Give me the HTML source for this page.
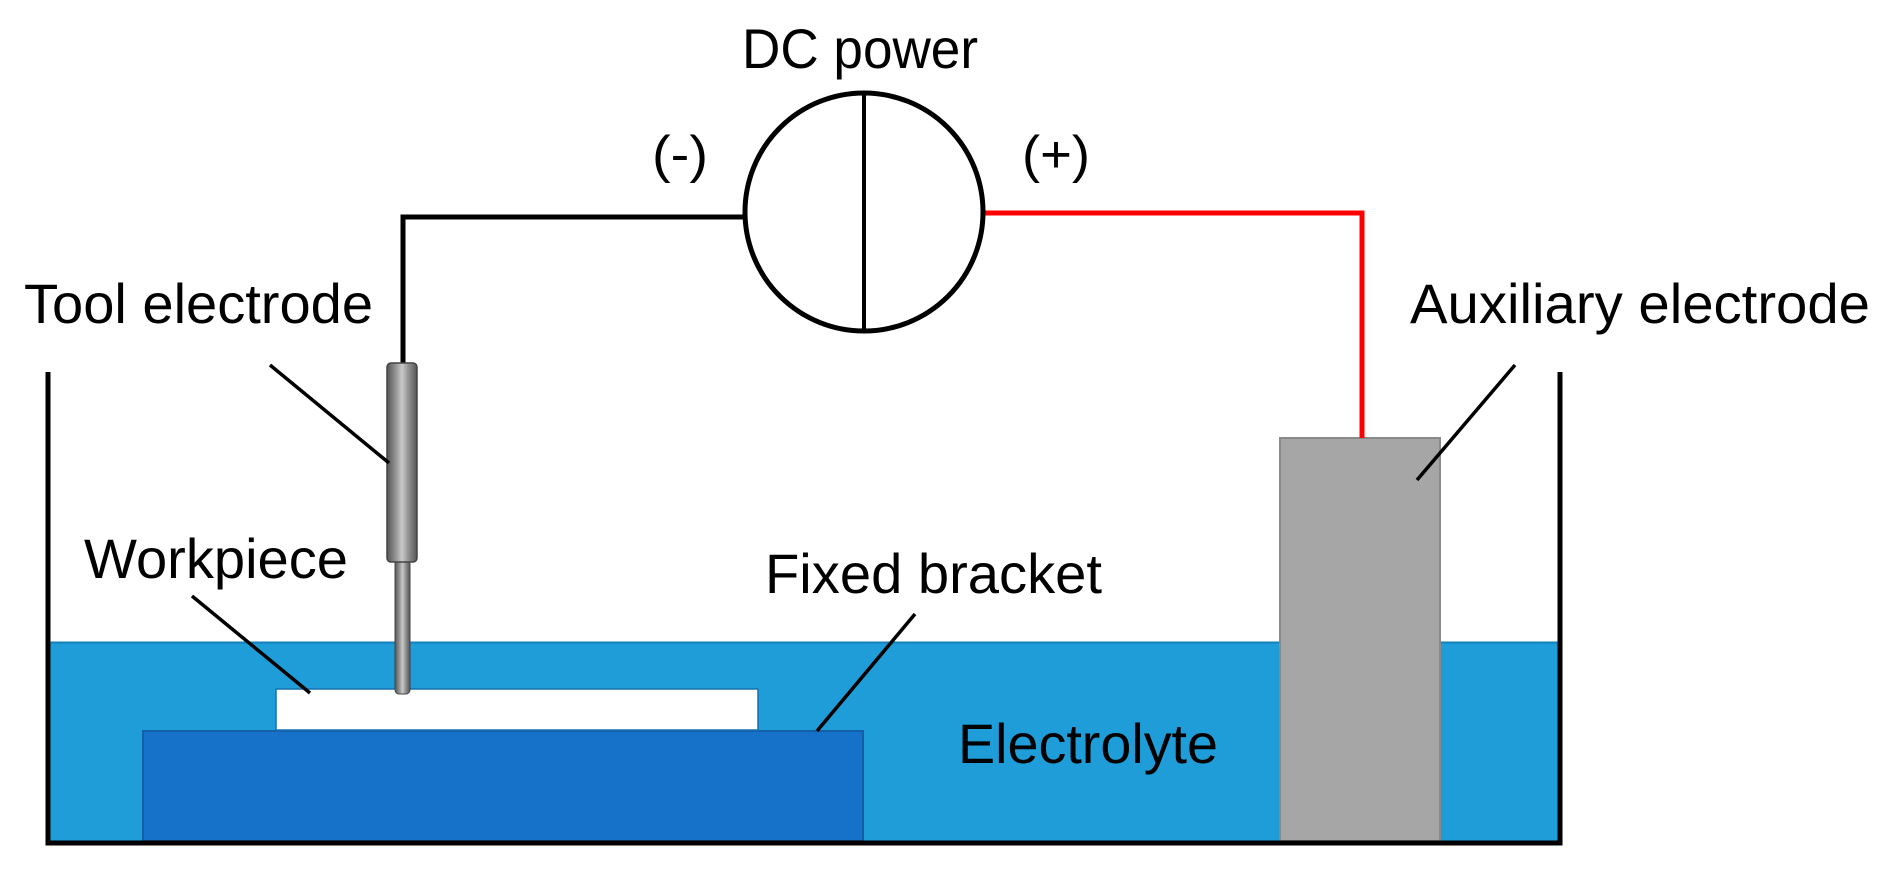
<!DOCTYPE html>
<html><head><meta charset="utf-8"><style>
html,body{margin:0;padding:0;background:#fff;}
svg{display:block;}
text{font-family:"Liberation Sans",Arial,sans-serif;fill:#000;}
</style></head><body>
<svg width="1881" height="891" viewBox="0 0 1881 891" xmlns="http://www.w3.org/2000/svg">
<defs>
<linearGradient id="cyl" x1="0" x2="1" y1="0" y2="0">
<stop offset="0" stop-color="#555"/><stop offset="0.25" stop-color="#8a8a8a"/><stop offset="0.5" stop-color="#c8c8c8"/><stop offset="0.75" stop-color="#8a8a8a"/><stop offset="1" stop-color="#555"/>
</linearGradient>
</defs>
<rect x="48" y="642" width="1512" height="200" fill="#1e9dd8"/>
<line x1="48" y1="642.5" x2="1560" y2="642.5" stroke="#1780b8" stroke-width="2"/>
<rect x="143" y="731" width="720" height="110" fill="#1672c8" stroke="#1460a8" stroke-width="2"/>
<rect x="276" y="689" width="482" height="41" fill="#fff" stroke="#1670b0" stroke-width="1.5"/>
<rect x="1280" y="438" width="160" height="403" fill="#a6a6a6" stroke="#8a8a8a" stroke-width="2"/>
<polyline points="48,372 48,843 1560,843 1560,372" fill="none" stroke="#000" stroke-width="5"/>
<polyline points="403,363 403,217 745,217" fill="none" stroke="#000" stroke-width="5"/>
<polyline points="983,213 1362,213 1362,438" fill="none" stroke="#f00" stroke-width="5"/>
<circle cx="864" cy="212" r="119" fill="#fff" stroke="#000" stroke-width="5"/>
<line x1="864" y1="93" x2="864" y2="331" stroke="#000" stroke-width="4"/>
<rect x="395" y="560" width="15" height="134" rx="4" fill="url(#cyl)" stroke="#444" stroke-width="1"/>
<rect x="387" y="363" width="30" height="199" rx="4" fill="url(#cyl)" stroke="#444" stroke-width="1.5"/>
<g stroke="#000" stroke-width="3.5">
<line x1="270" y1="365" x2="389" y2="463"/>
<line x1="192" y1="596" x2="310" y2="693"/>
<line x1="915" y1="614" x2="817" y2="731"/>
<line x1="1515" y1="365" x2="1417" y2="480"/>
</g>
<g font-size="56">
<text x="742" y="68" textLength="236" lengthAdjust="spacingAndGlyphs">DC power</text>
<text x="652" y="172" font-size="52" textLength="56" lengthAdjust="spacingAndGlyphs">(-)</text>
<text x="1022" y="172" font-size="52" textLength="68" lengthAdjust="spacingAndGlyphs">(+)</text>
<text x="24" y="323" textLength="349" lengthAdjust="spacingAndGlyphs">Tool electrode</text>
<text x="1410" y="323" textLength="460" lengthAdjust="spacingAndGlyphs">Auxiliary electrode</text>
<text x="84" y="578" textLength="264" lengthAdjust="spacingAndGlyphs">Workpiece</text>
<text x="765" y="593" textLength="337" lengthAdjust="spacingAndGlyphs">Fixed bracket</text>
<text x="958" y="763" textLength="260" lengthAdjust="spacingAndGlyphs">Electrolyte</text>
</g>
</svg>
</body></html>
